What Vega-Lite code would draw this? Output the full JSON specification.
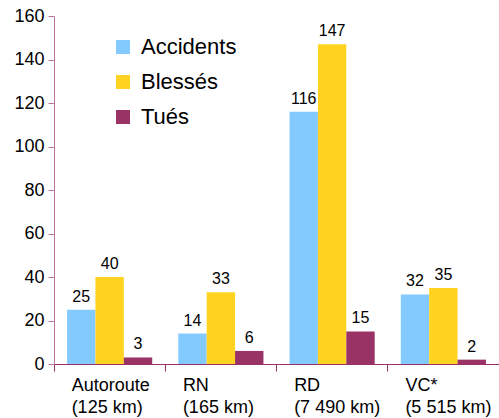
{
  "$schema": "https://vega.github.io/schema/vega-lite/v6.json",
  "width": 445,
  "height": 348,
  "autosize": {"type": "none"},
  "padding": {"left": 54, "top": 16, "right": 0, "bottom": 54},
  "config": {"view": {"stroke": null}, "font": "Liberation Sans"},
  "data": {
    "values": [
      {"route": "Autoroute|(125 km)", "type": "Accidents", "value": 25},
      {"route": "Autoroute|(125 km)", "type": "Blessés", "value": 40},
      {"route": "Autoroute|(125 km)", "type": "Tués", "value": 3},
      {"route": "RN|(165 km)", "type": "Accidents", "value": 14},
      {"route": "RN|(165 km)", "type": "Blessés", "value": 33},
      {"route": "RN|(165 km)", "type": "Tués", "value": 6},
      {"route": "RD|(7 490 km)", "type": "Accidents", "value": 116},
      {"route": "RD|(7 490 km)", "type": "Blessés", "value": 147},
      {"route": "RD|(7 490 km)", "type": "Tués", "value": 15},
      {"route": "VC*|(5 515 km)", "type": "Accidents", "value": 32},
      {"route": "VC*|(5 515 km)", "type": "Blessés", "value": 35},
      {"route": "VC*|(5 515 km)", "type": "Tués", "value": 2}
    ]
  },
  "encoding": {
    "x": {
      "field": "route",
      "type": "nominal",
      "sort": ["Autoroute|(125 km)", "RN|(165 km)", "RD|(7 490 km)", "VC*|(5 515 km)"],
      "scale": {"paddingInner": 0, "paddingOuter": 0},
      "axis": {
        "title": null,
        "bandPosition": 0,
        "labelAngle": 0,
        "labelExpr": "split(datum.label, '|')",
        "labelAlign": "left",
        "labelOffset": -38,
        "labelFontSize": 18,
        "labelLineHeight": 22,
        "labelColor": "#000000",
        "labelPadding": 5,
        "domainColor": "#993366",
        "tickColor": "#993366",
        "tickSize": 7,
        "grid": false
      }
    },
    "xOffset": {
      "field": "type",
      "type": "nominal",
      "sort": ["Accidents", "Blessés", "Tués"],
      "scale": {"paddingInner": 0, "paddingOuter": 0.46}
    },
    "y": {
      "field": "value",
      "type": "quantitative",
      "scale": {"domain": [0, 160], "nice": false},
      "axis": {
        "title": null,
        "values": [0, 20, 40, 60, 80, 100, 120, 140, 160],
        "labelFontSize": 18,
        "labelColor": "#000000",
        "labelPadding": 4,
        "tickSize": 6,
        "domainColor": "#b9739a",
        "tickColor": "#b9739a",
        "grid": false
      }
    }
  },
  "layer": [
    {
      "mark": {"type": "bar"},
      "encoding": {
        "color": {
          "field": "type",
          "type": "nominal",
          "sort": ["Accidents", "Blessés", "Tués"],
          "scale": {"domain": ["Accidents", "Blessés", "Tués"], "range": ["#83caff", "#ffd320", "#993366"]},
          "legend": {
            "title": null,
            "orient": "none",
            "legendX": 58,
            "legendY": 20,
            "symbolType": "square",
            "symbolSize": 196,
            "symbolStrokeWidth": 0,
            "labelFontSize": 22,
            "labelColor": "#000000",
            "labelOffset": 7,
            "rowPadding": 13
          }
        }
      }
    },
    {
      "mark": {"type": "text", "dy": -8, "baseline": "alphabetic", "fontSize": 16, "color": "#000000"},
      "encoding": {"text": {"field": "value", "type": "quantitative"}}
    }
  ]
}
